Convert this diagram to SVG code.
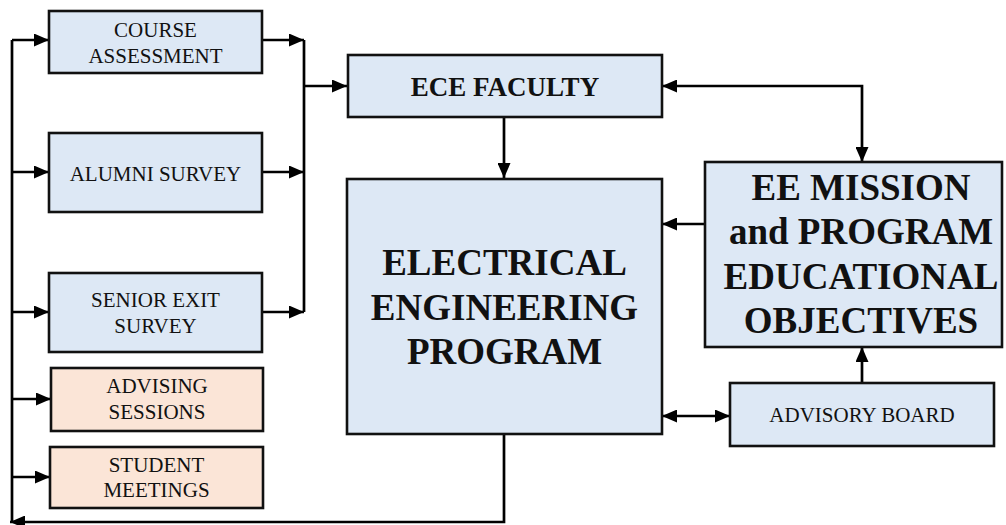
<svg xmlns="http://www.w3.org/2000/svg" width="1006" height="525" viewBox="0 0 1006 525">
<defs>
<marker id="ah" viewBox="0 0 15 13" refX="15" refY="6.5" markerWidth="15" markerHeight="13" markerUnits="userSpaceOnUse" orient="auto-start-reverse">
<path d="M0,0 L15,6.5 L0,13 z" fill="#000"/>
</marker>
<style>
.blue{fill:#DDE8F5;stroke:#111;stroke-width:2.6}
.orange{fill:#FBE5D7;stroke:#111;stroke-width:2.6}
.t{font-family:"Liberation Serif","Times New Roman",serif;font-size:21px;fill:#111;text-anchor:middle}
.b{font-family:"Liberation Serif","Times New Roman",serif;font-weight:bold;fill:#111;text-anchor:middle}
.c{fill:none;stroke:#000;stroke-width:2.7}
.ca{fill:none;stroke:#000;stroke-width:2.7;marker-end:url(#ah)}
.cb{fill:none;stroke:#000;stroke-width:2.7;marker-start:url(#ah);marker-end:url(#ah)}
</style>
</defs>
<rect width="1006" height="525" fill="#fff"/>
<g id="connectors">
<path class="ca" d="M504,434 V522 H10"/>
<path class="c" d="M12,522 V40"/>
<path class="ca" d="M12,40 H49"/>
<path class="ca" d="M12,172 H49"/>
<path class="ca" d="M12,312 H49"/>
<path class="ca" d="M12,399 H51"/>
<path class="ca" d="M12,477 H50"/>
<path class="ca" d="M262,40 H304"/>
<path class="ca" d="M262,172 H304"/>
<path class="ca" d="M262,312 H304"/>
<path class="c" d="M304,40 V312"/>
<path class="ca" d="M304,86 H347"/>
<path class="ca" d="M504,117 V178"/>
<path class="cb" d="M662,86 H862 V162"/>
<path class="ca" d="M705,224 H662"/>
<path class="cb" d="M662,416 H730"/>
<path class="ca" d="M862,383 V347"/>
</g>
<g id="course-assessment">
<rect class="blue" x="49" y="11" width="213" height="62"/>
<text class="t" x="155.5" y="37">COURSE</text>
<text class="t" x="155.5" y="63">ASSESSMENT</text>
</g>
<g id="alumni-survey">
<rect class="blue" x="49" y="133" width="213" height="79"/>
<text class="t" x="155.5" y="181">ALUMNI SURVEY</text>
</g>
<g id="senior-exit-survey">
<rect class="blue" x="49" y="273" width="213" height="79"/>
<text class="t" x="155.5" y="307">SENIOR EXIT</text>
<text class="t" x="155.5" y="333">SURVEY</text>
</g>
<g id="advising-sessions">
<rect class="orange" x="51" y="368" width="212" height="63"/>
<text class="t" x="157" y="393">ADVISING</text>
<text class="t" x="157" y="419">SESSIONS</text>
</g>
<g id="student-meetings">
<rect class="orange" x="50" y="447" width="213" height="61"/>
<text class="t" x="156.5" y="472">STUDENT</text>
<text class="t" x="156.5" y="497">MEETINGS</text>
</g>
<g id="ece-faculty">
<rect class="blue" x="348" y="55" width="314" height="62"/>
<text class="b" x="505" y="96" font-size="27">ECE FACULTY</text>
</g>
<g id="ee-program">
<rect class="blue" x="347" y="179" width="315" height="255"/>
<text class="b" x="504.5" y="275" font-size="37">ELECTRICAL</text>
<text class="b" x="504.5" y="320" font-size="37">ENGINEERING</text>
<text class="b" x="504.5" y="364" font-size="37">PROGRAM</text>
</g>
<g id="ee-mission">
<rect class="blue" x="705" y="162" width="297" height="185"/>
<text class="b" x="861" y="200" font-size="37">EE MISSION</text>
<text class="b" x="861" y="244" font-size="37">and PROGRAM</text>
<text class="b" x="861" y="289" font-size="37">EDUCATIONAL</text>
<text class="b" x="861" y="333" font-size="37">OBJECTIVES</text>
</g>
<g id="advisory-board">
<rect class="blue" x="730" y="383" width="264" height="63"/>
<text class="t" x="862" y="422">ADVISORY BOARD</text>
</g>
</svg>
